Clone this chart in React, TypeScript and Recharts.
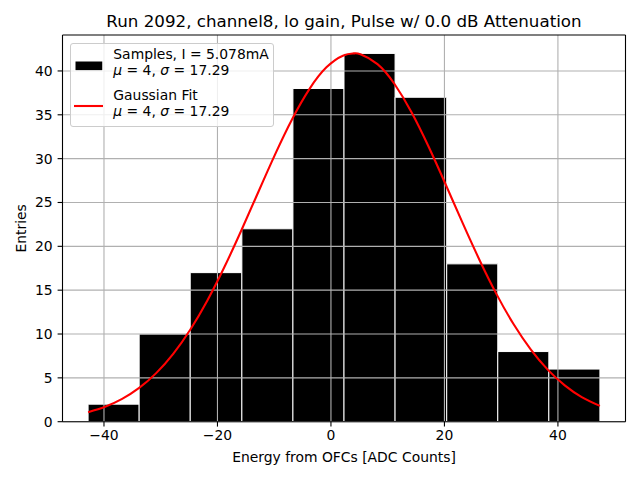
import React from "react";
import {
  ComposedChart,
  Line,
  XAxis,
  YAxis,
  ReferenceArea,
  ReferenceLine,
} from "recharts";

const binEdges = [-42.8, -33.8, -24.8, -15.7, -6.7, 2.3, 11.3, 20.4, 29.4, 38.4, 47.4];
const counts = [2, 10, 17, 22, 38, 42, 37, 18, 8, 6];

const fitX = [
  -42.8, -39.8, -36.8, -33.8, -30.8, -27.8, -24.8, -21.8, -18.8, -15.8, -12.8, -9.8, -6.8,
  -3.8, -0.8, 2.2, 4.0, 5.2, 8.2, 11.2, 14.2, 17.2, 20.2, 23.2, 26.2, 29.2, 32.2, 35.2, 38.2,
  41.2, 44.2, 47.4,
];
const fitY = [
  1.08, 1.7, 2.6, 3.85, 5.54, 7.74, 10.49, 13.8, 17.61, 21.8, 26.2, 30.55, 34.56, 37.93,
  40.41, 41.77, 42.0, 41.9, 40.78, 38.51, 35.29, 31.38, 27.08, 22.67, 18.42, 14.52, 11.11,
  8.25, 5.94, 4.15, 2.81, 1.8,
];

const xTicks = [-40, -20, 0, 20, 40];
const yTicks = [0, 5, 10, 15, 20, 25, 30, 35, 40];
const xDomain = [-47.31, 51.91];
const yDomain = [0, 44.1];

const titleText = "Run 2092, channel8, lo gain, Pulse w/ 0.0 dB Attenuation";
const xLabelText = "Energy from OFCs [ADC Counts]";
const yLabelText = "Entries";
const legendSamples = "Samples, I = 5.078mA";
const legendFit = "Gaussian Fit";
const legendMu = "4";
const legendSigma = "17.29";

const FONT = "DejaVu Sans, sans-serif";
const fitData = fitX.map((x, i) => ({ x, y: fitY[i] }));
const bins = counts.map((c, i) => ({ x1: binEdges[i], x2: binEdges[i + 1], c }));

const StatLine = ({ x, y }: { x: number; y: number }) => (
  <text x={x} y={y} fontFamily={FONT} fontSize={13.9} fill="#000">
    <tspan fontStyle="italic">μ</tspan>
    <tspan>{` = ${legendMu}, `}</tspan>
    <tspan fontStyle="italic">σ</tspan>
    <tspan>{` = ${legendSigma}`}</tspan>
  </text>
);

const LegendBox = () => (
  <div
    style={{
      position: "absolute",
      left: 70,
      top: 42.5,
      width: 204,
      height: 84,
      boxSizing: "border-box",
      border: "1px solid #cccccc",
      borderRadius: 3,
      background: "rgba(255,255,255,0.8)",
    }}
  >
    <svg width={204} height={84} style={{ position: "absolute", left: -1, top: -1 }}>
      <rect x={5} y={18} width={27.8} height={9.7} fill="#000" stroke="#fff" strokeWidth={1} />
      <text x={43.3} y={15.8} fontFamily={FONT} fontSize={13.9} fill="#000">
        {legendSamples}
      </text>
      <StatLine x={43.3} y={32.4} />
      <line x1={4} x2={33} y1={63} y2={63} stroke="red" strokeWidth={2.1} />
      <text x={43.3} y={56.5} fontFamily={FONT} fontSize={13.9} fill="#000">
        {legendFit}
      </text>
      <StatLine x={43.3} y={73} />
    </svg>
  </div>
);

export default function App() {
  return (
    <div style={{ position: "absolute", left: 0, top: 0, width: 640, height: 480, background: "#fff" }}>
      <ComposedChart
        width={640}
        height={480}
        data={fitData}
        margin={{ top: 35, right: 14.5, bottom: 18, left: 0 }}
      >
        <XAxis
          dataKey="x"
          type="number"
          domain={xDomain}
          ticks={xTicks}
          allowDataOverflow
          height={40.3}
          tickSize={4.9}
          tickMargin={3.5}
          stroke="#000"
          strokeWidth={1.1}
          tick={{ fill: "#000", fontSize: 13.9, fontFamily: FONT }}
          tickFormatter={(v: number) => (v < 0 ? `\u2212${Math.abs(v)}` : `${v}`)}
          label={(props: any) => {
            const vb = props.viewBox;
            const cx = vb.x + vb.width / 2;
            return (
              <g>
                <text x={cx} y={vb.y + 40} textAnchor="middle" fontFamily={FONT} fontSize={13.9} fill="#000">
                  {xLabelText}
                </text>
                <text x={cx} y={26.7} textAnchor="middle" fontFamily={FONT} fontSize={16.7} fill="#000">
                  {titleText}
                </text>
              </g>
            );
          }}
        />
        <YAxis
          type="number"
          domain={yDomain}
          ticks={yTicks}
          allowDataOverflow
          width={62.5}
          tickSize={4.9}
          tickMargin={4.9}
          stroke="#000"
          strokeWidth={1.1}
          tick={{ fill: "#000", fontSize: 13.9, fontFamily: FONT }}
          label={(props: any) => {
            const vb = props.viewBox;
            const cy = vb.y + vb.height / 2;
            return (
              <text
                x={26}
                y={cy}
                textAnchor="middle"
                fontFamily={FONT}
                fontSize={13.9}
                fill="#000"
                transform={`rotate(-90, 26, ${cy})`}
              >
                {yLabelText}
              </text>
            );
          }}
        />
        {bins.map((b, i) => (
          <ReferenceArea
            key={`bin-${i}`}
            x1={b.x1}
            x2={b.x2}
            y1={0}
            y2={b.c}
            fill="#000"
            fillOpacity={1}
            stroke="#fff"
            strokeWidth={1}
            ifOverflow="visible"
          />
        ))}
        {xTicks.map((t) => (
          <ReferenceLine key={`gx-${t}`} x={t} stroke="#b0b0b0" strokeWidth={1.1} />
        ))}
        {yTicks.map((t) => (
          <ReferenceLine key={`gy-${t}`} y={t} stroke="#b0b0b0" strokeWidth={1.1} />
        ))}
        <ReferenceLine x={xDomain[1]} stroke="#000" strokeWidth={1.1} ifOverflow="visible" />
        <ReferenceLine y={yDomain[1]} stroke="#000" strokeWidth={1.1} ifOverflow="visible" />
        <Line
          dataKey="y"
          type="natural"
          stroke="red"
          strokeWidth={2.1}
          dot={false}
          activeDot={false}
          isAnimationActive={false}
        />
      </ComposedChart>
      <LegendBox />
    </div>
  );
}
